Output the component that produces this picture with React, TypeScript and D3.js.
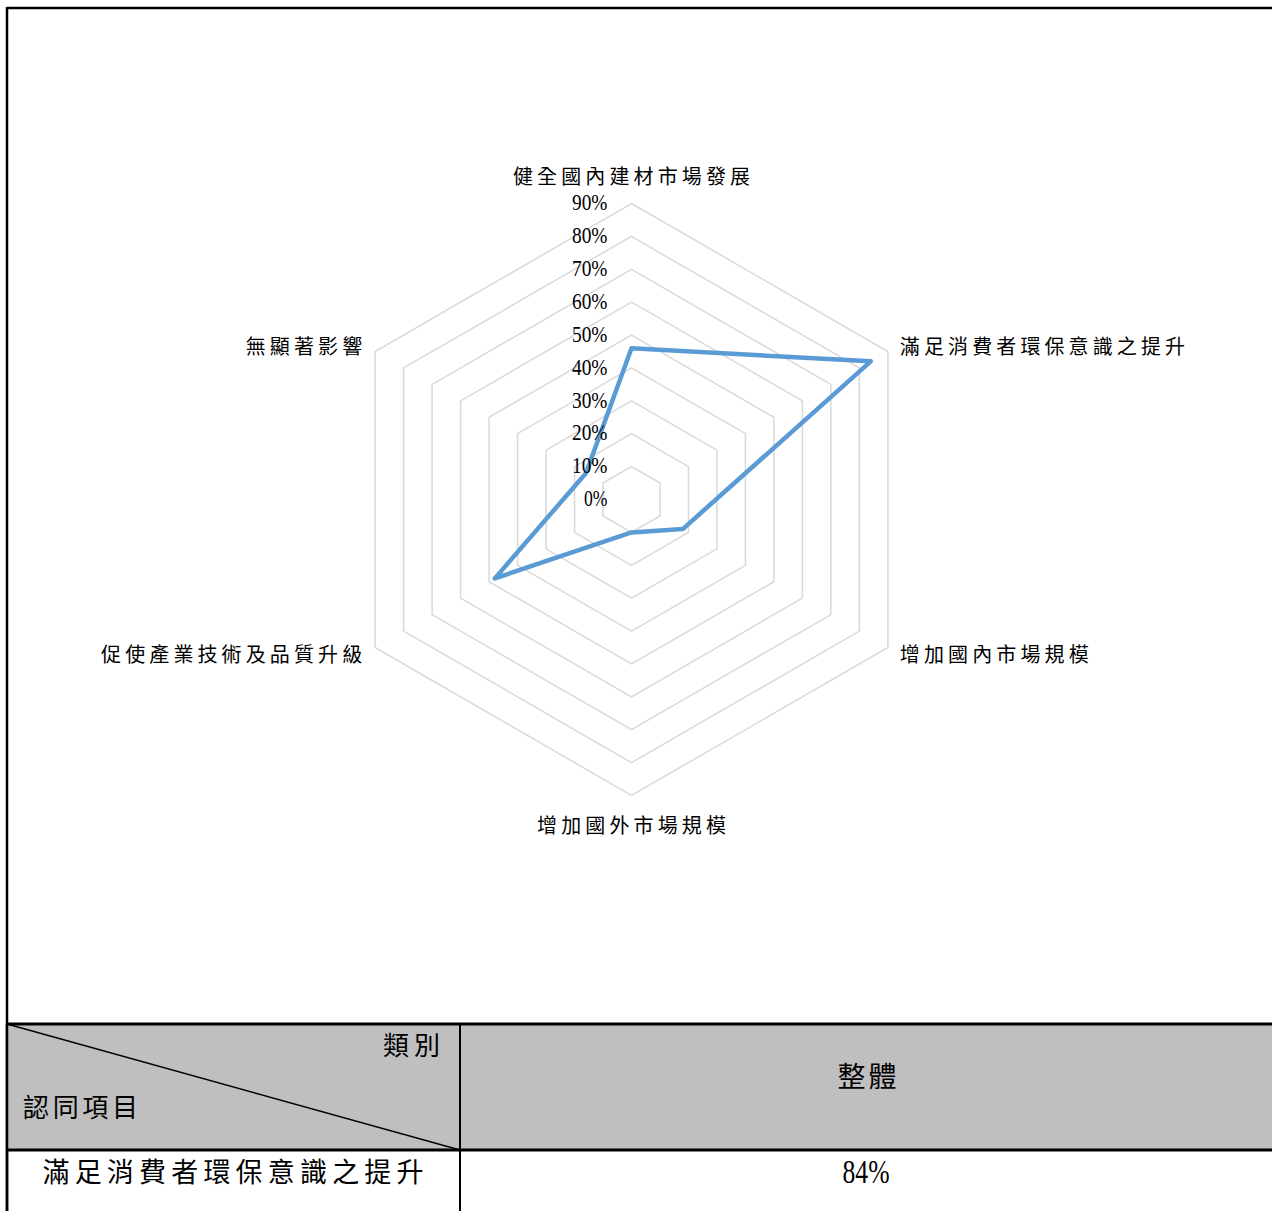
import React from 'react';
import * as d3 from 'd3';

const categories = [
  '健全國內建材市場發展',
  '滿足消費者環保意識之提升',
  '增加國內市場規模',
  '增加國外市場規模',
  '促使產業技術及品質升級',
  '無顯著影響',
];
const seriesValues = [0.46, 0.84, 0.18, 0.10, 0.48, 0.16];
const tickValues = [0, 0.1, 0.2, 0.3, 0.4, 0.5, 0.6, 0.7, 0.8, 0.9];
const tickLabels = ['0%', '10%', '20%', '30%', '40%', '50%', '60%', '70%', '80%', '90%'];

const tableCornerTop = '類別';
const tableCornerBottom = '認同項目';
const tableColumns = ['整體'];
const tableRowLabels = ['滿足消費者環保意識之提升'];
const tableRowValues = ['84%'];

const W = 1272;
const H = 1211;
const cx = 631.5;
const cy = 499.5;
const CJK = "'Noto Sans CJK TC', 'Noto Sans CJK SC', sans-serif";
const SERIF = "'Liberation Serif', 'DejaVu Serif', serif";

export default function App() {
  const r = d3.scaleLinear().domain([0, 0.9]).range([0, 296]);
  const n = categories.length;
  const angle = d3.scaleLinear().domain([0, n]).range([-Math.PI / 2, (3 * Math.PI) / 2]);
  const pt = (i: number, v: number): [number, number] => [
    cx + r(v) * Math.cos(angle(i)),
    cy + r(v) * Math.sin(angle(i)),
  ];
  const closedLine = d3.line<[number, number]>().curve(d3.curveLinearClosed);

  const gridPaths = tickValues.map((t) =>
    closedLine(categories.map((_, i) => pt(i, t))) as string
  );
  const seriesPath = closedLine(seriesValues.map((v, i) => pt(i, v))) as string;

  // table geometry
  const tTop = 1024;
  const tHeadBottom = 1150;
  const tLeft = 7;
  const tDiv = 460;
  const tRight = 1280;

  return (
    <svg
      width={W}
      height={H}
      style={{ position: 'absolute', left: 0, top: 0, background: '#fff' }}
    >
      <rect x={0} y={0} width={W} height={H} fill="#fff" />
      {/* outer frame */}
      <line x1={tLeft} y1={8} x2={tRight} y2={8} stroke="#000" strokeWidth={2.5} />
      <line x1={tLeft} y1={7} x2={tLeft} y2={H} stroke="#000" strokeWidth={2.5} />

      {/* radar grid */}
      {gridPaths.map((d, i) => (
        <path key={i} d={d} fill="none" stroke="#d9d9d9" strokeWidth={1.5} />
      ))}

      {/* series */}
      <path d={seriesPath} fill="none" stroke="#5b9bd5" strokeWidth={4.5} strokeLinejoin="round" />

      {/* tick labels */}
      {tickValues.map((t, i) => (
        <text
          key={i}
          x={cx - 24}
          y={cy - r(t)}
          dy="0.28em"
          textAnchor="end"
          fontFamily={SERIF}
          fontSize={24}
          fill="#000"
          textLength={tickLabels[i].length * 12 - 0.5}
          lengthAdjust="spacingAndGlyphs"
        >
          {tickLabels[i]}
        </text>
      ))}

      {/* category labels */}
      {categories.map((c, i) => {
        const a = angle(i);
        const [tx, ty] = pt(i, 0.9);
        const cos = Math.cos(a);
        const sin = Math.sin(a);
        let x = tx;
        let y = ty;
        let anchor: 'start' | 'middle' | 'end' = 'middle';
        if (Math.abs(cos) < 0.01) {
          y = sin < 0 ? ty - 27 : ty + 30;
        } else if (cos > 0) {
          x = tx + 12;
          y = ty + 1.5 + 12 * sin;
          anchor = 'start';
        } else {
          x = tx - 13;
          y = ty + 1.5 + 12 * sin;
          anchor = 'end';
        }
        return (
          <text
            key={c}
            x={x}
            y={y}
            dy="0.35em"
            textAnchor={anchor}
            fontFamily={CJK}
            fontSize={20}
            fill="#000"
            textLength={c.length * 24.1 - 4}
            lengthAdjust="spacing"
          >
            {c}
          </text>
        );
      })}

      {/* table header */}
      <rect x={tLeft} y={tTop} width={tRight - tLeft} height={tHeadBottom - tTop} fill="#bfbfbf" />
      <line x1={tLeft} y1={tTop} x2={tDiv} y2={tHeadBottom} stroke="#000" strokeWidth={1.3} />
      <line x1={tLeft - 1} y1={tTop} x2={tRight} y2={tTop} stroke="#000" strokeWidth={2.8} />
      <line x1={tLeft - 1} y1={tHeadBottom} x2={tRight} y2={tHeadBottom} stroke="#000" strokeWidth={2.8} />
      <line x1={tDiv} y1={tTop} x2={tDiv} y2={H} stroke="#000" strokeWidth={2} />
      <line x1={tLeft} y1={tTop} x2={tLeft} y2={H} stroke="#000" strokeWidth={2.5} />

      <text
        x={440}
        y={1046}
        dy="0.35em"
        textAnchor="end"
        fontFamily={CJK}
        fontSize={26}
        textLength={57}
        lengthAdjust="spacing"
      >
        {tableCornerTop}
      </text>
      <text
        x={23}
        y={1108}
        dy="0.35em"
        textAnchor="start"
        fontFamily={CJK}
        fontSize={26}
        textLength={115}
        lengthAdjust="spacing"
      >
        {tableCornerBottom}
      </text>
      {tableColumns.map((c) => (
        <text
          key={c}
          x={867}
          y={1077}
          dy="0.35em"
          textAnchor="middle"
          fontFamily={CJK}
          fontSize={28}
          textLength={59}
          lengthAdjust="spacing"
        >
          {c}
        </text>
      ))}
      {tableRowLabels.map((c, i) => (
        <text
          key={c}
          x={233}
          y={1173 + i * 60}
          dy="0.35em"
          textAnchor="middle"
          fontFamily={CJK}
          fontSize={27}
          textLength={381}
          lengthAdjust="spacing"
        >
          {c}
        </text>
      ))}
      {tableRowValues.map((v, i) => (
        <text
          key={i}
          x={866}
          y={1171 + i * 60}
          dy="0.35em"
          textAnchor="middle"
          fontFamily={SERIF}
          fontSize={34}
          textLength={47}
          lengthAdjust="spacingAndGlyphs"
        >
          {v}
        </text>
      ))}
    </svg>
  );
}
